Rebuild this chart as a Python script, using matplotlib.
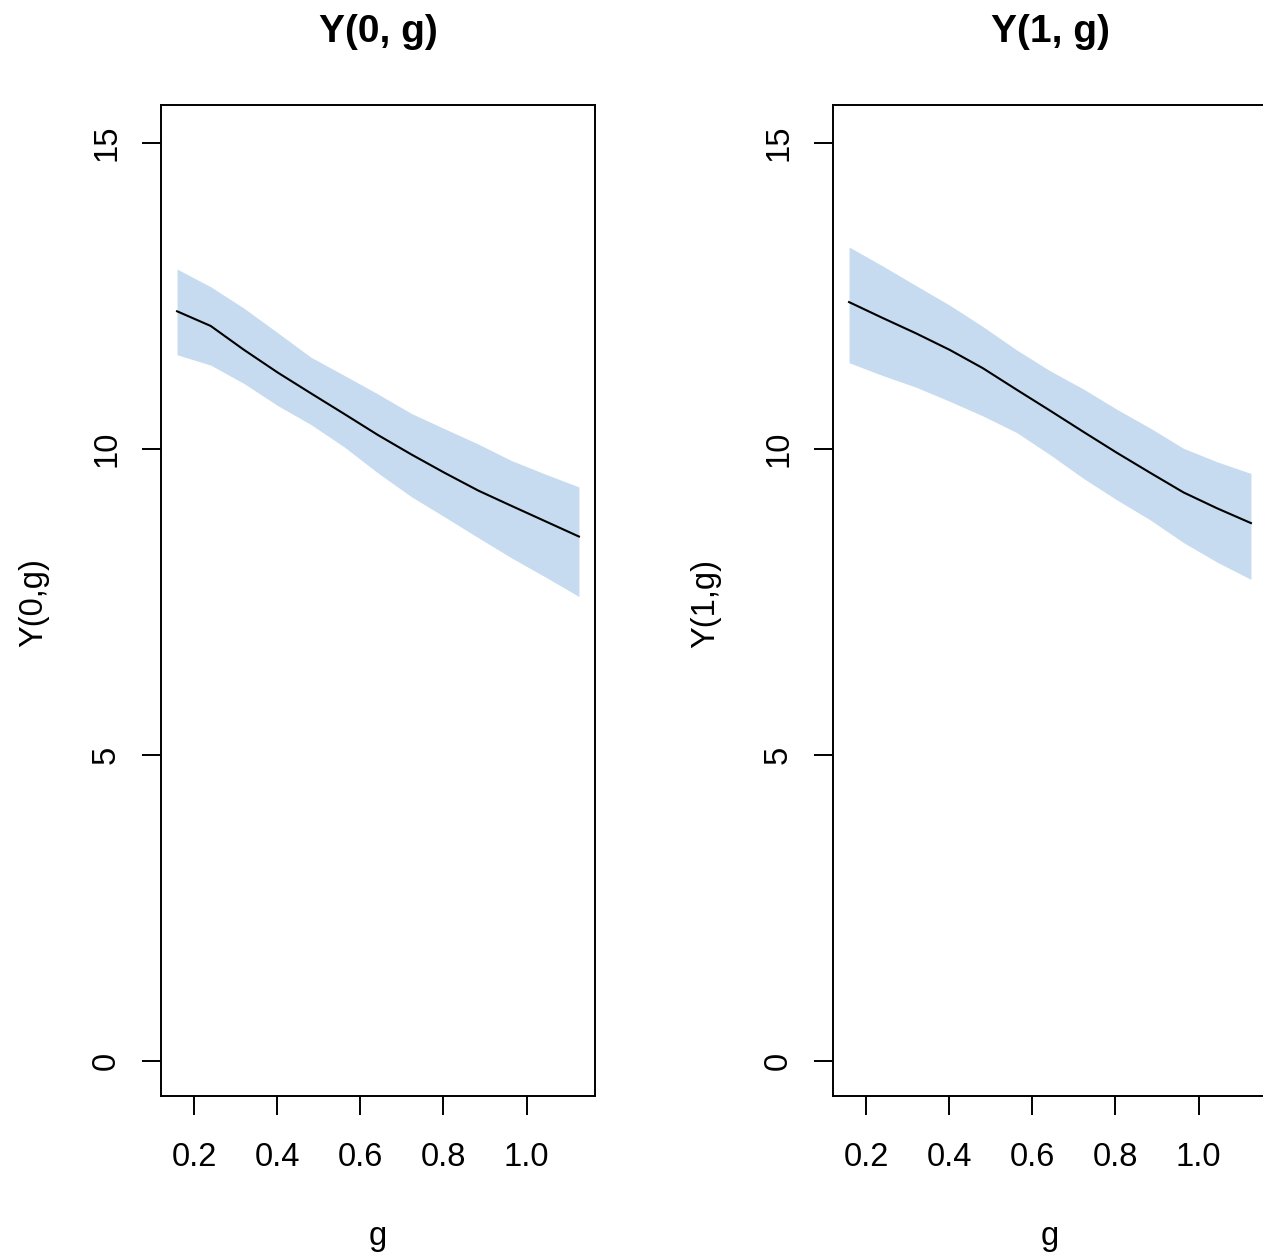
import matplotlib
matplotlib.use("Agg")
import matplotlib.pyplot as plt

plt.rcParams['font.family'] = ['Liberation Sans', 'DejaVu Sans']

# grid of g values
g = [0.159, 0.240, 0.320, 0.401, 0.481, 0.562, 0.642,
     0.723, 0.803, 0.884, 0.964, 1.045, 1.126]

# Y(0, g): mean and band
y0_mean = [12.25, 12.01, 11.62, 11.25, 10.91, 10.57, 10.23,
           9.91, 9.61, 9.32, 9.07, 8.82, 8.57]
y0_upper = [12.94, 12.65, 12.30, 11.90, 11.50, 11.20, 10.90,
            10.58, 10.33, 10.08, 9.81, 9.59, 9.38]
y0_lower = [11.54, 11.37, 11.07, 10.71, 10.40, 10.03, 9.61,
            9.22, 8.89, 8.55, 8.22, 7.91, 7.59]

# Y(1, g): mean and band
y1_mean = [12.40, 12.14, 11.89, 11.62, 11.32, 10.97, 10.63,
           10.28, 9.94, 9.61, 9.29, 9.03, 8.79]
y1_upper = [13.30, 12.99, 12.67, 12.35, 12.00, 11.62, 11.28,
            10.98, 10.65, 10.34, 10.01, 9.79, 9.60]
y1_lower = [11.41, 11.20, 11.01, 10.78, 10.54, 10.27, 9.91,
            9.52, 9.17, 8.84, 8.47, 8.15, 7.87]

titles = ["Y(0, g)", "Y(1, g)"]
ylabels = ["Y(0,g)", "Y(1,g)"]
xticks = [0.2, 0.4, 0.6, 0.8, 1.0]
yticks = [0, 5, 10, 15]

W, H = 1263, 1255
fig = plt.figure(figsize=(W / 100, H / 100), dpi=100)

panels = [(y0_mean, y0_lower, y0_upper), (y1_mean, y1_lower, y1_upper)]
lefts = [161, 833]
ax_w = 434

for i, (mean, lo, hi) in enumerate(panels):
    ax = fig.add_axes([lefts[i] / W, (H - 1096) / H, ax_w / W, 991 / H])
    ax.fill_between(g, lo, hi, color="#C6DBEF", linewidth=0)
    ax.plot(g, mean, color="black", linewidth=1.5)

    # R-style 4% padding around data range
    xr = g[-1] - g[0]
    ax.set_xlim(g[0] - 0.04 * xr, g[-1] + 0.04 * xr)
    ax.set_ylim(-0.57, 15.62)

    ax.set_xticks(xticks)
    ax.set_xticklabels([f"{t:.1f}" for t in xticks])
    ax.set_yticks(yticks)
    ax.set_yticklabels([str(t) for t in yticks], rotation=90, va="center")
    ax.tick_params(axis="both", direction="out", length=14, width=1.4,
                   labelsize=23.5)
    ax.tick_params(axis="x", pad=19)
    ax.tick_params(axis="y", pad=14)
    for s in ax.spines.values():
        s.set_linewidth(1.4)

    cx = (lefts[i] + ax_w / 2) / W
    fig.text(cx, (H - 41.7) / H, titles[i], fontsize=28, fontweight="bold",
             ha="center", va="baseline")
    fig.text(cx, (H - 1245) / H, "g", fontsize=23.5,
             ha="center", va="baseline")
    fig.text((lefts[i] - 127) / W, (H - 603) / H, ylabels[i], fontsize=23.5,
             rotation=90, ha="center", va="center")

fig.savefig("out.png", dpi=100, facecolor="white")
